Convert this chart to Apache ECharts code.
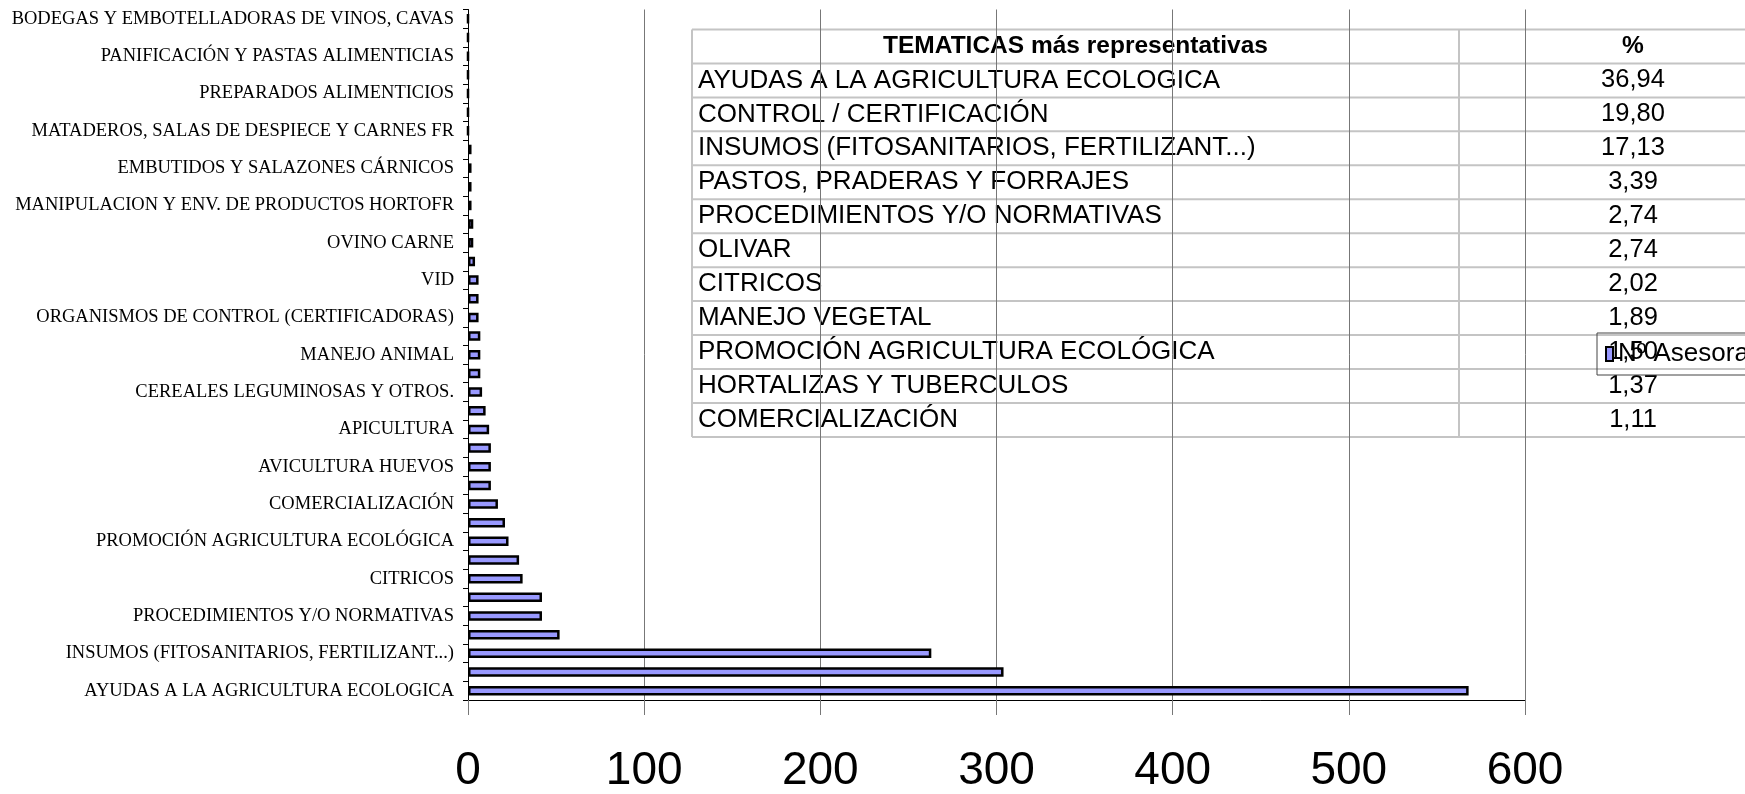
<!DOCTYPE html>
<html>
<head>
<meta charset="utf-8">
<title>Temáticas de asesoramiento</title>
<script src="https://cdn.jsdelivr.net/npm/echarts@6/dist/echarts.min.js"></script>
<style>
  html, body { margin: 0; padding: 0; background: #fff; }
  #chart { width: 1745px; height: 794px; }
</style>
</head>
<body>
<div id="chart"></div>
<script>
// categorias (de abajo hacia arriba, como en el eje)
const categories = [
  'AYUDAS A LA AGRICULTURA ECOLOGICA',
  'CONTROL / CERTIFICACIÓN',
  'INSUMOS (FITOSANITARIOS, FERTILIZANT...)',
  'PASTOS, PRADERAS Y FORRAJES',
  'PROCEDIMIENTOS Y/O NORMATIVAS',
  'OLIVAR',
  'CITRICOS',
  'MANEJO VEGETAL',
  'PROMOCIÓN AGRICULTURA ECOLÓGICA',
  'HORTALIZAS Y TUBERCULOS',
  'COMERCIALIZACIÓN',
  'FRUTALES',
  'AVICULTURA HUEVOS',
  'FRUTOS SECOS',
  'APICULTURA',
  'BOVINO CARNE',
  'CEREALES LEGUMINOSAS Y OTROS.',
  'CAPRINO',
  'MANEJO ANIMAL',
  'PORCINO',
  'ORGANISMOS DE CONTROL (CERTIFICADORAS)',
  'OVINO LECHE',
  'VID',
  'AVICULTURA CARNE',
  'OVINO CARNE',
  'PLANTAS AROMÁTICAS Y MEDICINALES',
  'MANIPULACION Y ENV. DE PRODUCTOS HORTOFR',
  'ARROZ',
  'EMBUTIDOS Y SALAZONES CÁRNICOS',
  'INDUSTRIAS LÁCTEAS',
  'MATADEROS, SALAS DE DESPIECE Y CARNES FR',
  'ACEITES Y GRASAS',
  'PREPARADOS ALIMENTICIOS',
  'PIENSOS',
  'PANIFICACIÓN Y PASTAS ALIMENTICIAS',
  'SEMILLAS Y PLANTONES',
  'BODEGAS Y EMBOTELLADORAS DE VINOS, CAVAS'
];

const asesoramientos = [
  568, 304, 263, 52, 42, 42, 31, 29, 23, 21,
  17, 13, 13, 13, 12, 10, 8, 7, 7, 7,
  6, 6, 6, 4, 3, 3, 2, 2, 2, 2,
  0, 0, 0, 0, 0, 0, 0
];

const xTicks = [0, 100, 200, 300, 400, 500, 600];

// tabla de tematicas mas representativas
const tableTopics = [
  'AYUDAS A LA AGRICULTURA ECOLOGICA',
  'CONTROL / CERTIFICACIÓN',
  'INSUMOS (FITOSANITARIOS, FERTILIZANT...)',
  'PASTOS, PRADERAS Y FORRAJES',
  'PROCEDIMIENTOS Y/O NORMATIVAS',
  'OLIVAR',
  'CITRICOS',
  'MANEJO VEGETAL',
  'PROMOCIÓN AGRICULTURA ECOLÓGICA',
  'HORTALIZAS Y TUBERCULOS',
  'COMERCIALIZACIÓN'
];
const tablePct = ['36,94', '19,80', '17,13', '3,39', '2,74', '2,74', '2,02', '1,89', '1,50', '1,37', '1,11'];

const seriesName = 'Nº Asesoramientos';

const chart = echarts.init(document.getElementById('chart'));

/** construir la tabla como elementos graficos */
function buildTable() {
  const left = 692, right = 1810, top = 29.5, rowH = 33.95, colX = 1459;
  const nRows = tableTopics.length + 1;
  const bottom = top + nRows * rowH;
  const sans = 'Liberation Sans, Arial, sans-serif';
  const els = [];
  for (let i = 0; i <= nRows; i++) {
    const y = top + i * rowH;
    els.push({
      type: 'line',
      shape: { x1: left, y1: y, x2: right, y2: y },
      style: { stroke: '#c4c4c4', lineWidth: 2 }
    });
  }
  [left, colX].forEach(x => {
    els.push({
      type: 'line',
      shape: { x1: x, y1: top, x2: x, y2: bottom },
      style: { stroke: '#c4c4c4', lineWidth: 2 }
    });
  });
  // cabecera
  els.push({
    type: 'text',
    style: {
      text: 'TEMATICAS más representativas', x: (left + colX) / 2, y: top + rowH / 2,
      font: 'bold 24.5px ' + sans, fill: '#000', textAlign: 'center', textVerticalAlign: 'middle'
    }
  });
  els.push({
    type: 'text',
    style: {
      text: '%', x: 1633, y: top + rowH / 2,
      font: 'bold 24.5px ' + sans, fill: '#000', textAlign: 'center', textVerticalAlign: 'middle'
    }
  });
  tableTopics.forEach((t, i) => {
    const y = top + (i + 1.5) * rowH;
    els.push({
      type: 'text',
      style: {
        text: t, x: left + 6, y: y,
        font: '26px ' + sans, fill: '#000', textAlign: 'left', textVerticalAlign: 'middle'
      }
    });
    els.push({
      type: 'text',
      style: {
        text: tablePct[i], x: 1633, y: y,
        font: '25.5px ' + sans, fill: '#000', textAlign: 'center', textVerticalAlign: 'middle'
      }
    });
  });
  return els;
}

const option = {
  animation: false,
  grid: {
    left: 468,
    right: 220,
    top: 9.5,
    bottom: 94,
    containLabel: false
  },
  legend: {
    data: [seriesName],
    left: 1597,
    top: 333,
    orient: 'horizontal',
    padding: [8, 8],
    itemWidth: 7,
    itemHeight: 14,
    icon: 'rect',
    borderColor: '#444',
    borderWidth: 1,
    backgroundColor: 'transparent',
    textStyle: {
      fontFamily: 'Liberation Sans, Arial, sans-serif',
      fontSize: 26,
      color: '#000'
    }
  },
  xAxis: {
    type: 'value',
    min: xTicks[0],
    max: xTicks[xTicks.length - 1],
    interval: 100,
    axisLine: { show: true, lineStyle: { color: '#000', width: 1 } },
    axisTick: { show: true, length: 15, lineStyle: { color: '#777' } },
    splitLine: { show: true, lineStyle: { color: '#777', width: 1 } },
    axisLabel: {
      margin: 48,
      fontFamily: 'Liberation Sans, Arial, sans-serif',
      fontSize: 46,
      color: '#000'
    }
  },
  yAxis: {
    type: 'category',
    data: categories,
    boundaryGap: true,
    axisLine: { show: true, lineStyle: { color: '#000', width: 1 } },
    axisTick: { show: true, interval: 0, length: 5, lineStyle: { color: '#000' } },
    splitLine: { show: false },
    axisLabel: {
      interval: 1,
      margin: 14,
      fontFamily: 'Liberation Serif, Times New Roman, serif',
      fontSize: 18.5,
      color: '#000'
    }
  },
  graphic: buildTable(),
  series: [
    {
      name: seriesName,
      type: 'bar',
      data: asesoramientos,
      barWidth: 9.5,
      itemStyle: {
        color: '#9999FF',
        borderColor: '#000',
        borderWidth: 2.5
      }
    }
  ]
};

chart.setOption(option);
</script>
</body>
</html>
